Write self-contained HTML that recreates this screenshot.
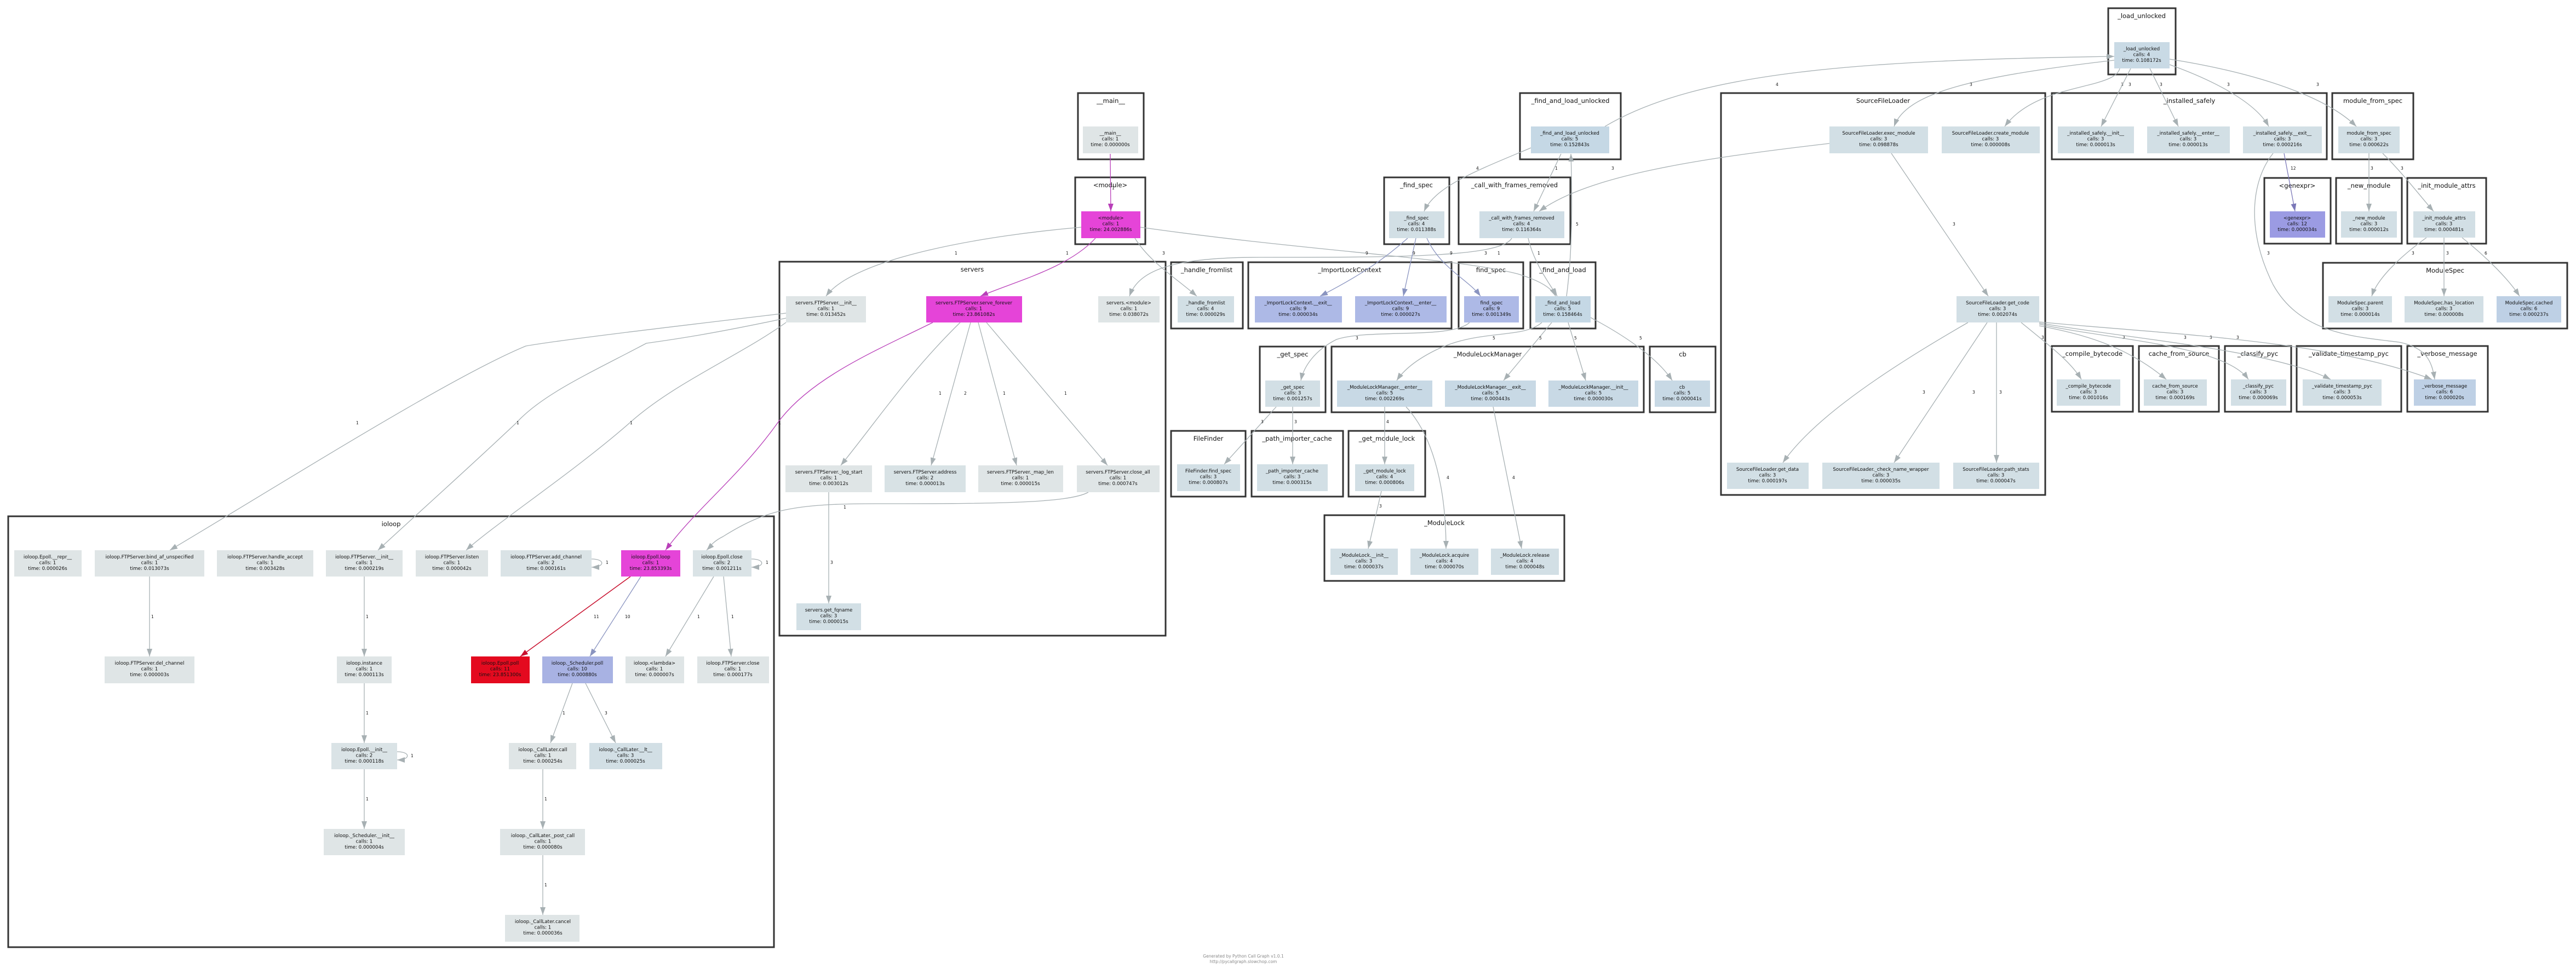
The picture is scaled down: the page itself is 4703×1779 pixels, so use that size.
<!DOCTYPE html>
<html><head><meta charset="utf-8">
<style>
html,body{margin:0;padding:0;background:#fff;}
svg{display:block;}
.n{font-family:"DejaVu Sans","Liberation Sans",sans-serif;font-size:8.7px;fill:#111;text-anchor:middle;}
.c{font-family:"DejaVu Sans","Liberation Sans",sans-serif;font-size:11.5px;fill:#111;text-anchor:middle;}
.l{font-family:"DejaVu Sans","Liberation Sans",sans-serif;font-size:7.5px;fill:#111;}
.cl{fill:none;stroke:#333;stroke-width:3;}
.e{fill:none;stroke:#a7b0b3;stroke-width:1.3;marker-end:url(#ag);}
.em{fill:none;stroke:#b93fb9;stroke-width:1.3;marker-end:url(#am);}
.er{fill:none;stroke:#c8102e;stroke-width:1.5;marker-end:url(#ar);}
.eb{fill:none;stroke:#8a94c0;stroke-width:1.3;marker-end:url(#ab);}
.ep{fill:none;stroke:#7b78b8;stroke-width:1.3;marker-end:url(#ap);}
.f{font-family:"DejaVu Sans","Liberation Sans",sans-serif;font-size:7.5px;fill:#888;text-anchor:middle;}
</style></head>
<body>
<svg width="4703" height="1779" viewBox="0 0 4703 1779" xmlns="http://www.w3.org/2000/svg">
<defs>
<marker id="ag" viewBox="0 0 10 10" refX="10" refY="5" markerWidth="14" markerHeight="10" markerUnits="userSpaceOnUse" orient="auto" preserveAspectRatio="none"><path d="M0,0L10,5L0,10z" fill="#a7b0b3"/></marker>
<marker id="am" viewBox="0 0 10 10" refX="10" refY="5" markerWidth="14" markerHeight="10" markerUnits="userSpaceOnUse" orient="auto" preserveAspectRatio="none"><path d="M0,0L10,5L0,10z" fill="#b93fb9"/></marker>
<marker id="ar" viewBox="0 0 10 10" refX="10" refY="5" markerWidth="14" markerHeight="10" markerUnits="userSpaceOnUse" orient="auto" preserveAspectRatio="none"><path d="M0,0L10,5L0,10z" fill="#c8102e"/></marker>
<marker id="ab" viewBox="0 0 10 10" refX="10" refY="5" markerWidth="14" markerHeight="10" markerUnits="userSpaceOnUse" orient="auto" preserveAspectRatio="none"><path d="M0,0L10,5L0,10z" fill="#8a94c0"/></marker>
<marker id="ap" viewBox="0 0 10 10" refX="10" refY="5" markerWidth="14" markerHeight="10" markerUnits="userSpaceOnUse" orient="auto" preserveAspectRatio="none"><path d="M0,0L10,5L0,10z" fill="#7b78b8"/></marker>
</defs>

<!-- clusters -->
<g>
<rect class="cl" x="3849" y="15" width="123" height="121"/><text class="c" x="3910" y="33">_load_unlocked</text>
<rect class="cl" x="1968" y="170" width="120" height="121"/><text class="c" x="2028" y="188">__main__</text>
<rect class="cl" x="2775" y="170" width="184" height="121"/><text class="c" x="2867" y="188">_find_and_load_unlocked</text>
<rect class="cl" x="3142" y="170" width="592" height="734"/><text class="c" x="3438" y="188">SourceFileLoader</text>
<rect class="cl" x="3746" y="170" width="502" height="121"/><text class="c" x="3997" y="188">_installed_safely</text>
<rect class="cl" x="4258" y="170" width="148" height="121"/><text class="c" x="4332" y="188">module_from_spec</text>
<rect class="cl" x="1963" y="324" width="128" height="122"/><text class="c" x="2027" y="342">&lt;module&gt;</text>
<rect class="cl" x="2527" y="324" width="119" height="122"/><text class="c" x="2586" y="342">_find_spec</text>
<rect class="cl" x="2663" y="324" width="204" height="122"/><text class="c" x="2765" y="342">_call_with_frames_removed</text>
<rect class="cl" x="4134" y="325" width="121" height="120"/><text class="c" x="4194" y="343">&lt;genexpr&gt;</text>
<rect class="cl" x="4265" y="325" width="120" height="120"/><text class="c" x="4325" y="343">_new_module</text>
<rect class="cl" x="4395" y="325" width="144" height="120"/><text class="c" x="4467" y="343">_init_module_attrs</text>
<rect class="cl" x="4241" y="480" width="446" height="120"/><text class="c" x="4464" y="498">ModuleSpec</text>
<rect class="cl" x="1423" y="478" width="705" height="683"/><text class="c" x="1775" y="496">servers</text>
<rect class="cl" x="2138" y="479" width="131" height="121"/><text class="c" x="2203" y="497">_handle_fromlist</text>
<rect class="cl" x="2279" y="479" width="371" height="121"/><text class="c" x="2464" y="497">_ImportLockContext</text>
<rect class="cl" x="2663" y="479" width="118" height="121"/><text class="c" x="2722" y="497">find_spec</text>
<rect class="cl" x="2794" y="479" width="119" height="121"/><text class="c" x="2853" y="497">_find_and_load</text>
<rect class="cl" x="2300" y="633" width="120" height="120"/><text class="c" x="2360" y="651">_get_spec</text>
<rect class="cl" x="2431" y="633" width="570" height="120"/><text class="c" x="2716" y="651">_ModuleLockManager</text>
<rect class="cl" x="3012" y="633" width="120" height="120"/><text class="c" x="3072" y="651">cb</text>
<rect class="cl" x="3746" y="632" width="148" height="120"/><text class="c" x="3820" y="650">_compile_bytecode</text>
<rect class="cl" x="3905" y="632" width="146" height="120"/><text class="c" x="3978" y="650">cache_from_source</text>
<rect class="cl" x="4062" y="632" width="121" height="120"/><text class="c" x="4122" y="650">_classify_pyc</text>
<rect class="cl" x="4193" y="632" width="191" height="120"/><text class="c" x="4288" y="650">_validate_timestamp_pyc</text>
<rect class="cl" x="4395" y="632" width="147" height="120"/><text class="c" x="4468" y="650">_verbose_message</text>
<rect class="cl" x="2138" y="787" width="136" height="120"/><text class="c" x="2206" y="805">FileFinder</text>
<rect class="cl" x="2285" y="787" width="167" height="120"/><text class="c" x="2368" y="805">_path_importer_cache</text>
<rect class="cl" x="2462" y="787" width="140" height="120"/><text class="c" x="2532" y="805">_get_module_lock</text>
<rect class="cl" x="2418" y="941" width="438" height="120"/><text class="c" x="2637" y="959">_ModuleLock</text>
<rect class="cl" x="15" y="943" width="1398" height="787"/><text class="c" x="714" y="961">ioloop</text>
</g>

<!-- edges -->
<g>
<path class="em" d="M2027,281 L2028,386"/><text class="l" x="2030" y="346">1</text>
<path class="em" d="M2000,435 C1950,490 1850,515 1790,541"/><text class="l" x="1946" y="465">1</text>
<path class="e" d="M1974,415 C1800,430 1560,470 1508,541"/><text class="l" x="1743" y="465">1</text>
<path class="e" d="M2072,435 C2100,480 2150,510 2185,541"/><text class="l" x="2122" y="465">3</text>
<path class="e" d="M2082,415 C2400,460 2650,470 2770,500 C2820,515 2835,530 2840,541"/><text class="l" x="2710" y="465">3</text>
<path class="e" d="M2760,435 C2740,470 2550,470 2300,470 C2150,470 2080,490 2062,541"/><text class="l" x="2734" y="465">1</text>
<path class="e" d="M2790,435 C2800,480 2830,520 2843,541"/><text class="l" x="2807" y="465">1</text>
<path class="eb" d="M2570,435 C2520,480 2470,510 2410,541"/><text class="l" x="2493" y="465">9</text>
<path class="eb" d="M2585,435 L2562,541"/><text class="l" x="2579" y="465">9</text>
<path class="eb" d="M2605,435 C2630,490 2680,510 2703,541"/><text class="l" x="2647" y="465">9</text>
<path class="e" d="M2795,270 C2700,310 2620,340 2600,386"/><text class="l" x="2695" y="310">4</text>
<path class="e" d="M2850,281 L2800,386"/><text class="l" x="2839" y="310">1</text>
<path class="e" d="M3340,262 C3100,290 2900,320 2810,386"/><text class="l" x="2942" y="310">3</text>
<path class="e" d="M2860,541 C2872,450 2870,350 2868,281"/><text class="l" x="2877" y="412">5</text>
<path class="e" d="M2930,231 C3100,130 3400,110 3860,103"/><text class="l" x="3242" y="157">4</text>
<path class="e" d="M3860,110 C3600,140 3480,170 3458,231"/><text class="l" x="3596" y="157">3</text>
<path class="e" d="M3870,125 C3860,165 3720,150 3660,231"/><text class="l" x="3872" y="157">3</text>
<path class="e" d="M3890,125 L3836,231"/><text class="l" x="3886" y="157">3</text>
<path class="e" d="M3925,125 L3977,231"/><text class="l" x="3943" y="157">3</text>
<path class="e" d="M3961,118 C4050,150 4120,190 4142,231"/><text class="l" x="4066" y="157">3</text>
<path class="e" d="M3961,108 C4100,130 4240,170 4302,231"/><text class="l" x="4229" y="157">3</text>
<path class="e" d="M3453,280 L3630,541"/><text class="l" x="3565" y="412">3</text>
<path class="ep" d="M4170,280 L4190,386"/><text class="l" x="4182" y="310">12</text>
<path class="e" d="M4150,280 C4110,330 4100,420 4150,520 C4200,610 4300,615 4380,625 C4430,635 4440,660 4445,693"/><text class="l" x="4139" y="465">3</text>
<path class="e" d="M4325,280 L4325,386"/><text class="l" x="4328" y="310">3</text>
<path class="e" d="M4350,280 C4390,320 4420,360 4443,386"/><text class="l" x="4383" y="310">3</text>
<path class="e" d="M4430,434 C4380,470 4340,510 4330,541"/><text class="l" x="4403" y="465">3</text>
<path class="e" d="M4462,434 L4462,541"/><text class="l" x="4466" y="465">3</text>
<path class="e" d="M4495,434 C4540,470 4580,510 4600,541"/><text class="l" x="4536" y="465">6</text>
<path class="e" d="M3690,589 C3740,630 3780,660 3800,693"/><text class="l" x="3727" y="619">3</text>
<path class="e" d="M3723,595 C3800,610 3880,630 3955,693"/><text class="l" x="3875" y="619">3</text>
<path class="e" d="M3723,592 C3850,620 4060,630 4105,693"/><text class="l" x="3987" y="619">3</text>
<path class="e" d="M3723,590 C3900,620 4150,640 4255,693"/><text class="l" x="4034" y="619">3</text>
<path class="e" d="M3723,588 C3950,610 4250,620 4440,693"/><text class="l" x="4083" y="619">3</text>
<path class="e" d="M3593,589 C3400,700 3300,780 3255,845"/><text class="l" x="3510" y="719">3</text>
<path class="e" d="M3628,589 L3458,845"/><text class="l" x="3601" y="719">3</text>
<path class="e" d="M3645,589 L3645,845"/><text class="l" x="3650" y="719">3</text>
<path class="e" d="M2815,589 C2780,620 2700,600 2620,640 C2580,660 2560,680 2550,695"/><text class="l" x="2725" y="620">5</text>
<path class="e" d="M2833,589 L2745,695"/><text class="l" x="2810" y="620">5</text>
<path class="e" d="M2863,589 L2895,695"/><text class="l" x="2874" y="620">5</text>
<path class="e" d="M2904,580 C2980,620 3030,660 3053,695"/><text class="l" x="2993" y="620">5</text>
<path class="e" d="M2683,589 C2650,620 2500,600 2440,620 C2400,640 2380,670 2375,695"/><text class="l" x="2475" y="620">3</text>
<path class="e" d="M2330,743 L2235,848"/><text class="l" x="2302" y="773">3</text>
<path class="e" d="M2360,743 L2360,848"/><text class="l" x="2363" y="773">3</text>
<path class="e" d="M2528,743 L2528,848"/><text class="l" x="2531" y="773">4</text>
<path class="e" d="M2567,743 C2620,800 2640,900 2640,1002"/><text class="l" x="2641" y="875">4</text>
<path class="e" d="M2726,743 L2778,1002"/><text class="l" x="2761" y="875">4</text>
<path class="e" d="M2522,897 L2498,1002"/><text class="l" x="2518" y="927">3</text>
<path class="e" d="M1753,589 C1660,680 1600,770 1535,850"/><text class="l" x="1714" y="721">1</text>
<path class="e" d="M1772,589 L1700,850"/><text class="l" x="1760" y="721">2</text>
<path class="e" d="M1786,589 L1856,850"/><text class="l" x="1831" y="721">1</text>
<path class="e" d="M1801,589 L2022,850"/><text class="l" x="1943" y="721">1</text>
<path class="e" d="M1513,899 L1513,1102"/><text class="l" x="1516" y="1030">3</text>
<path class="em" d="M1703,589 C1600,640 1480,690 1420,772 C1350,870 1270,930 1215,1005"/><text class="l" x="1421" y="775">1</text>
<path class="e" d="M1987,899 C1950,920 1800,920 1600,920 C1450,920 1400,930 1320,980 C1300,990 1295,1000 1290,1005"/><text class="l" x="1540" y="929">1</text>
<path class="e" d="M1435,572 C1200,600 1030,620 960,632 C820,690 520,880 310,1005"/><text class="l" x="650" y="775">1</text>
<path class="e" d="M1440,580 C1300,610 1230,620 1180,627 C1080,680 990,720 943,772 C850,860 760,940 690,1005"/><text class="l" x="943" y="775">1</text>
<path class="e" d="M1435,589 C1350,650 1230,700 1150,772 C1050,860 900,960 851,1005"/><text class="l" x="1150" y="775">1</text>
<path class="e" d="M273,1053 L273,1199"/><text class="l" x="276" y="1129">1</text>
<path class="e" d="M665,1053 L665,1199"/><text class="l" x="668" y="1129">1</text>
<path class="e" d="M665,1248 L665,1357"/><text class="l" x="668" y="1305">1</text>
<path class="e" d="M665,1405 L665,1514"/><text class="l" x="668" y="1462">1</text>
<path class="er" d="M1151,1053 L950,1199"/><text class="l" x="1084" y="1129">11</text>
<path class="eb" d="M1170,1053 L1077,1199"/><text class="l" x="1141" y="1129">10</text>
<path class="e" d="M1303,1053 L1215,1199"/><text class="l" x="1273" y="1129">1</text>
<path class="e" d="M1321,1053 L1335,1199"/><text class="l" x="1335" y="1129">1</text>
<path class="e" d="M1045,1248 L1005,1357"/><text class="l" x="1027" y="1305">1</text>
<path class="e" d="M1069,1248 L1124,1357"/><text class="l" x="1104" y="1305">3</text>
<path class="e" d="M991,1405 L991,1514"/><text class="l" x="994" y="1462">1</text>
<path class="e" d="M991,1562 L991,1671"/><text class="l" x="994" y="1619">1</text>
<path class="e" d="M1080,1021 C1105,1021 1105,1036 1080,1036"/><text class="l" x="1106" y="1030">1</text>
<path class="e" d="M1372,1021 C1397,1021 1397,1036 1372,1036"/><text class="l" x="1398" y="1030">1</text>
<path class="e" d="M725,1373 C750,1373 750,1388 725,1388"/><text class="l" x="750" y="1383">1</text>
</g>

<!-- nodes -->
<g>
<rect x="1977" y="231" width="101" height="49" fill="#dfe5e6"/><text class="n" x="2027" y="246">__main__</text><text class="n" x="2027" y="256.5">calls: 1</text><text class="n" x="2027" y="267">time: 0.000000s</text>
<rect x="1974" y="386" width="108" height="49" fill="#e544d8"/><text class="n" x="2028" y="401">&lt;module&gt;</text><text class="n" x="2028" y="411.5">calls: 1</text><text class="n" x="2028" y="422">time: 24.002886s</text>
<rect x="2795" y="231" width="143" height="49" fill="#c5d8e5"/><text class="n" x="2866" y="246">_find_and_load_unlocked</text><text class="n" x="2866" y="256.5">calls: 5</text><text class="n" x="2866" y="267">time: 0.152843s</text>
<rect x="2536" y="386" width="101" height="49" fill="#d2dfe5"/><text class="n" x="2586" y="401">_find_spec</text><text class="n" x="2586" y="411.5">calls: 4</text><text class="n" x="2586" y="422">time: 0.011388s</text>
<rect x="2701" y="386" width="155" height="49" fill="#cfdde5"/><text class="n" x="2778" y="401">_call_with_frames_removed</text><text class="n" x="2778" y="411.5">calls: 4</text><text class="n" x="2778" y="422">time: 0.116364s</text>
<rect x="3860" y="77" width="101" height="48" fill="#c9dae5"/><text class="n" x="3910" y="92">_load_unlocked</text><text class="n" x="3910" y="102.5">calls: 4</text><text class="n" x="3910" y="113">time: 0.108172s</text>
<rect x="3340" y="231" width="180" height="49" fill="#d2dfe5"/><text class="n" x="3430" y="246">SourceFileLoader.exec_module</text><text class="n" x="3430" y="256.5">calls: 3</text><text class="n" x="3430" y="267">time: 0.098878s</text>
<rect x="3545" y="231" width="179" height="49" fill="#d2dfe5"/><text class="n" x="3634" y="246">SourceFileLoader.create_module</text><text class="n" x="3634" y="256.5">calls: 3</text><text class="n" x="3634" y="267">time: 0.000008s</text>
<rect x="3757" y="231" width="139" height="49" fill="#d2dfe5"/><text class="n" x="3826" y="246">_installed_safely.__init__</text><text class="n" x="3826" y="256.5">calls: 3</text><text class="n" x="3826" y="267">time: 0.000013s</text>
<rect x="3920" y="231" width="151" height="49" fill="#d2dfe5"/><text class="n" x="3995" y="246">_installed_safely.__enter__</text><text class="n" x="3995" y="256.5">calls: 3</text><text class="n" x="3995" y="267">time: 0.000013s</text>
<rect x="4095" y="231" width="144" height="49" fill="#d2dfe5"/><text class="n" x="4167" y="246">_installed_safely.__exit__</text><text class="n" x="4167" y="256.5">calls: 3</text><text class="n" x="4167" y="267">time: 0.000216s</text>
<rect x="4269" y="231" width="112" height="49" fill="#d2dfe5"/><text class="n" x="4325" y="246">module_from_spec</text><text class="n" x="4325" y="256.5">calls: 3</text><text class="n" x="4325" y="267">time: 0.000622s</text>
<rect x="4144" y="386" width="101" height="48" fill="#9b9be3"/><text class="n" x="4194" y="401">&lt;genexpr&gt;</text><text class="n" x="4194" y="411.5">calls: 12</text><text class="n" x="4194" y="422">time: 0.000034s</text>
<rect x="4274" y="386" width="102" height="48" fill="#d2dfe5"/><text class="n" x="4325" y="401">_new_module</text><text class="n" x="4325" y="411.5">calls: 3</text><text class="n" x="4325" y="422">time: 0.000012s</text>
<rect x="4406" y="386" width="113" height="48" fill="#d2dfe5"/><text class="n" x="4462" y="401">_init_module_attrs</text><text class="n" x="4462" y="411.5">calls: 3</text><text class="n" x="4462" y="422">time: 0.000481s</text>
<rect x="4251" y="541" width="116" height="48" fill="#d2dfe5"/><text class="n" x="4309" y="556">ModuleSpec.parent</text><text class="n" x="4309" y="566.5">calls: 3</text><text class="n" x="4309" y="577">time: 0.000014s</text>
<rect x="4390" y="541" width="144" height="48" fill="#d2dfe5"/><text class="n" x="4462" y="556">ModuleSpec.has_location</text><text class="n" x="4462" y="566.5">calls: 3</text><text class="n" x="4462" y="577">time: 0.000008s</text>
<rect x="4558" y="541" width="118" height="48" fill="#bed0e5"/><text class="n" x="4617" y="556">ModuleSpec.cached</text><text class="n" x="4617" y="566.5">calls: 6</text><text class="n" x="4617" y="577">time: 0.000237s</text>
<rect x="3572" y="541" width="151" height="48" fill="#d2dfe5"/><text class="n" x="3647" y="556">SourceFileLoader.get_code</text><text class="n" x="3647" y="566.5">calls: 3</text><text class="n" x="3647" y="577">time: 0.002074s</text>
<rect x="3755" y="693" width="116" height="48" fill="#d2dfe5"/><text class="n" x="3813" y="708">_compile_bytecode</text><text class="n" x="3813" y="718.5">calls: 3</text><text class="n" x="3813" y="729">time: 0.001016s</text>
<rect x="3914" y="693" width="115" height="48" fill="#d2dfe5"/><text class="n" x="3971" y="708">cache_from_source</text><text class="n" x="3971" y="718.5">calls: 3</text><text class="n" x="3971" y="729">time: 0.000169s</text>
<rect x="4073" y="693" width="101" height="48" fill="#d2dfe5"/><text class="n" x="4123" y="708">_classify_pyc</text><text class="n" x="4123" y="718.5">calls: 3</text><text class="n" x="4123" y="729">time: 0.000069s</text>
<rect x="4204" y="693" width="144" height="48" fill="#d2dfe5"/><text class="n" x="4276" y="708">_validate_timestamp_pyc</text><text class="n" x="4276" y="718.5">calls: 3</text><text class="n" x="4276" y="729">time: 0.000053s</text>
<rect x="4407" y="693" width="113" height="48" fill="#bed0e5"/><text class="n" x="4463" y="708">_verbose_message</text><text class="n" x="4463" y="718.5">calls: 6</text><text class="n" x="4463" y="729">time: 0.000020s</text>
<rect x="3153" y="845" width="149" height="48" fill="#d2dfe5"/><text class="n" x="3227" y="860">SourceFileLoader.get_data</text><text class="n" x="3227" y="870.5">calls: 3</text><text class="n" x="3227" y="881">time: 0.000197s</text>
<rect x="3327" y="845" width="214" height="48" fill="#d2dfe5"/><text class="n" x="3434" y="860">SourceFileLoader._check_name_wrapper</text><text class="n" x="3434" y="870.5">calls: 3</text><text class="n" x="3434" y="881">time: 0.000035s</text>
<rect x="3566" y="845" width="157" height="48" fill="#d2dfe5"/><text class="n" x="3644" y="860">SourceFileLoader.path_stats</text><text class="n" x="3644" y="870.5">calls: 3</text><text class="n" x="3644" y="881">time: 0.000047s</text>
<rect x="2150" y="541" width="103" height="48" fill="#d2dfe5"/><text class="n" x="2201" y="556">_handle_fromlist</text><text class="n" x="2201" y="566.5">calls: 4</text><text class="n" x="2201" y="577">time: 0.000029s</text>
<rect x="2291" y="541" width="159" height="48" fill="#adb9e6"/><text class="n" x="2370" y="556">_ImportLockContext.__exit__</text><text class="n" x="2370" y="566.5">calls: 9</text><text class="n" x="2370" y="577">time: 0.000034s</text>
<rect x="2474" y="541" width="167" height="48" fill="#adb9e6"/><text class="n" x="2557" y="556">_ImportLockContext.__enter__</text><text class="n" x="2557" y="566.5">calls: 9</text><text class="n" x="2557" y="577">time: 0.000027s</text>
<rect x="2673" y="541" width="100" height="48" fill="#adb9e6"/><text class="n" x="2723" y="556">find_spec</text><text class="n" x="2723" y="566.5">calls: 9</text><text class="n" x="2723" y="577">time: 0.001349s</text>
<rect x="2803" y="541" width="101" height="48" fill="#c5d8e5"/><text class="n" x="2853" y="556">_find_and_load</text><text class="n" x="2853" y="566.5">calls: 5</text><text class="n" x="2853" y="577">time: 0.158464s</text>
<rect x="2310" y="695" width="100" height="48" fill="#d2dfe5"/><text class="n" x="2360" y="710">_get_spec</text><text class="n" x="2360" y="720.5">calls: 3</text><text class="n" x="2360" y="731">time: 0.001257s</text>
<rect x="2441" y="695" width="174" height="48" fill="#c8d9e5"/><text class="n" x="2528" y="710">_ModuleLockManager.__enter__</text><text class="n" x="2528" y="720.5">calls: 5</text><text class="n" x="2528" y="731">time: 0.002269s</text>
<rect x="2638" y="695" width="166" height="48" fill="#c8d9e5"/><text class="n" x="2721" y="710">_ModuleLockManager.__exit__</text><text class="n" x="2721" y="720.5">calls: 5</text><text class="n" x="2721" y="731">time: 0.000443s</text>
<rect x="2827" y="695" width="164" height="48" fill="#c8d9e5"/><text class="n" x="2909" y="710">_ModuleLockManager.__init__</text><text class="n" x="2909" y="720.5">calls: 5</text><text class="n" x="2909" y="731">time: 0.000030s</text>
<rect x="3021" y="695" width="101" height="48" fill="#c8d9e5"/><text class="n" x="3071" y="710">cb</text><text class="n" x="3071" y="720.5">calls: 5</text><text class="n" x="3071" y="731">time: 0.000041s</text>
<rect x="2149" y="848" width="115" height="49" fill="#d2dfe5"/><text class="n" x="2206" y="863">FileFinder.find_spec</text><text class="n" x="2206" y="873.5">calls: 3</text><text class="n" x="2206" y="884">time: 0.000807s</text>
<rect x="2295" y="848" width="129" height="49" fill="#d2dfe5"/><text class="n" x="2359" y="863">_path_importer_cache</text><text class="n" x="2359" y="873.5">calls: 3</text><text class="n" x="2359" y="884">time: 0.000315s</text>
<rect x="2474" y="848" width="108" height="49" fill="#d2dfe5"/><text class="n" x="2528" y="863">_get_module_lock</text><text class="n" x="2528" y="873.5">calls: 4</text><text class="n" x="2528" y="884">time: 0.000806s</text>
<rect x="2429" y="1002" width="123" height="48" fill="#d2dfe5"/><text class="n" x="2490" y="1017">_ModuleLock.__init__</text><text class="n" x="2490" y="1027.5">calls: 3</text><text class="n" x="2490" y="1038">time: 0.000037s</text>
<rect x="2575" y="1002" width="124" height="48" fill="#d2dfe5"/><text class="n" x="2637" y="1017">_ModuleLock.acquire</text><text class="n" x="2637" y="1027.5">calls: 4</text><text class="n" x="2637" y="1038">time: 0.000070s</text>
<rect x="2722" y="1002" width="124" height="48" fill="#d2dfe5"/><text class="n" x="2784" y="1017">_ModuleLock.release</text><text class="n" x="2784" y="1027.5">calls: 4</text><text class="n" x="2784" y="1038">time: 0.000048s</text>

<rect x="1435" y="541" width="146" height="48" fill="#dfe5e6"/><text class="n" x="1508" y="556">servers.FTPServer.__init__</text><text class="n" x="1508" y="566.5">calls: 1</text><text class="n" x="1508" y="577">time: 0.013452s</text>
<rect x="1691" y="541" width="175" height="48" fill="#e544d8"/><text class="n" x="1778" y="556">servers.FTPServer.serve_forever</text><text class="n" x="1778" y="566.5">calls: 1</text><text class="n" x="1778" y="577">time: 23.861082s</text>
<rect x="2005" y="541" width="112" height="48" fill="#dfe5e6"/><text class="n" x="2061" y="556">servers.&lt;module&gt;</text><text class="n" x="2061" y="566.5">calls: 1</text><text class="n" x="2061" y="577">time: 0.038072s</text>
<rect x="1434" y="850" width="158" height="49" fill="#dfe5e6"/><text class="n" x="1513" y="865">servers.FTPServer._log_start</text><text class="n" x="1513" y="875.5">calls: 1</text><text class="n" x="1513" y="886">time: 0.003012s</text>
<rect x="1615" y="850" width="148" height="49" fill="#d8e2e5"/><text class="n" x="1689" y="865">servers.FTPServer.address</text><text class="n" x="1689" y="875.5">calls: 2</text><text class="n" x="1689" y="886">time: 0.000013s</text>
<rect x="1786" y="850" width="155" height="49" fill="#dfe5e6"/><text class="n" x="1863" y="865">servers.FTPServer._map_len</text><text class="n" x="1863" y="875.5">calls: 1</text><text class="n" x="1863" y="886">time: 0.000015s</text>
<rect x="1966" y="850" width="151" height="49" fill="#dfe5e6"/><text class="n" x="2041" y="865">servers.FTPServer.close_all</text><text class="n" x="2041" y="875.5">calls: 1</text><text class="n" x="2041" y="886">time: 0.000747s</text>
<rect x="1454" y="1102" width="118" height="49" fill="#d2dfe5"/><text class="n" x="1513" y="1117">servers.get_fqname</text><text class="n" x="1513" y="1127.5">calls: 3</text><text class="n" x="1513" y="1138">time: 0.000015s</text>

<rect x="26" y="1005" width="123" height="48" fill="#dfe5e6"/><text class="n" x="87" y="1020">ioloop.Epoll.__repr__</text><text class="n" x="87" y="1030.5">calls: 1</text><text class="n" x="87" y="1041">time: 0.000026s</text>
<rect x="173" y="1005" width="200" height="48" fill="#dfe5e6"/><text class="n" x="273" y="1020">ioloop.FTPServer.bind_af_unspecified</text><text class="n" x="273" y="1030.5">calls: 1</text><text class="n" x="273" y="1041">time: 0.013073s</text>
<rect x="396" y="1005" width="176" height="48" fill="#dfe5e6"/><text class="n" x="484" y="1020">ioloop.FTPServer.handle_accept</text><text class="n" x="484" y="1030.5">calls: 1</text><text class="n" x="484" y="1041">time: 0.003428s</text>
<rect x="595" y="1005" width="140" height="48" fill="#dfe5e6"/><text class="n" x="665" y="1020">ioloop.FTPServer.__init__</text><text class="n" x="665" y="1030.5">calls: 1</text><text class="n" x="665" y="1041">time: 0.000219s</text>
<rect x="759" y="1005" width="132" height="48" fill="#dfe5e6"/><text class="n" x="825" y="1020">ioloop.FTPServer.listen</text><text class="n" x="825" y="1030.5">calls: 1</text><text class="n" x="825" y="1041">time: 0.000042s</text>
<rect x="914" y="1005" width="166" height="48" fill="#dae3e6"/><text class="n" x="997" y="1020">ioloop.FTPServer.add_channel</text><text class="n" x="997" y="1030.5">calls: 2</text><text class="n" x="997" y="1041">time: 0.000161s</text>
<rect x="1134" y="1005" width="108" height="48" fill="#e544d8"/><text class="n" x="1188" y="1020">ioloop.Epoll.loop</text><text class="n" x="1188" y="1030.5">calls: 1</text><text class="n" x="1188" y="1041">time: 23.853393s</text>
<rect x="1265" y="1005" width="107" height="48" fill="#dae3e6"/><text class="n" x="1318" y="1020">ioloop.Epoll.close</text><text class="n" x="1318" y="1030.5">calls: 2</text><text class="n" x="1318" y="1041">time: 0.001211s</text>
<rect x="191" y="1199" width="164" height="49" fill="#dfe5e6"/><text class="n" x="273" y="1214">ioloop.FTPServer.del_channel</text><text class="n" x="273" y="1224.5">calls: 1</text><text class="n" x="273" y="1235">time: 0.000003s</text>
<rect x="615" y="1199" width="100" height="49" fill="#dfe5e6"/><text class="n" x="665" y="1214">ioloop.instance</text><text class="n" x="665" y="1224.5">calls: 1</text><text class="n" x="665" y="1235">time: 0.000113s</text>
<rect x="860" y="1199" width="107" height="49" fill="#e40a1f"/><text class="n" x="913" y="1214">ioloop.Epoll.poll</text><text class="n" x="913" y="1224.5">calls: 11</text><text class="n" x="913" y="1235">time: 23.851300s</text>
<rect x="990" y="1199" width="129" height="49" fill="#a8b2e3"/><text class="n" x="1054" y="1214">ioloop._Scheduler.poll</text><text class="n" x="1054" y="1224.5">calls: 10</text><text class="n" x="1054" y="1235">time: 0.000880s</text>
<rect x="1142" y="1199" width="107" height="49" fill="#dfe5e6"/><text class="n" x="1195" y="1214">ioloop.&lt;lambda&gt;</text><text class="n" x="1195" y="1224.5">calls: 1</text><text class="n" x="1195" y="1235">time: 0.000007s</text>
<rect x="1273" y="1199" width="131" height="49" fill="#dfe5e6"/><text class="n" x="1338" y="1214">ioloop.FTPServer.close</text><text class="n" x="1338" y="1224.5">calls: 1</text><text class="n" x="1338" y="1235">time: 0.000177s</text>
<rect x="605" y="1357" width="120" height="48" fill="#dae3e6"/><text class="n" x="665" y="1372">ioloop.Epoll.__init__</text><text class="n" x="665" y="1382.5">calls: 2</text><text class="n" x="665" y="1393">time: 0.000118s</text>
<rect x="929" y="1357" width="123" height="48" fill="#dfe5e6"/><text class="n" x="991" y="1372">ioloop._CallLater.call</text><text class="n" x="991" y="1382.5">calls: 1</text><text class="n" x="991" y="1393">time: 0.000254s</text>
<rect x="1076" y="1357" width="133" height="48" fill="#d2dfe5"/><text class="n" x="1142" y="1372">ioloop._CallLater.__lt__</text><text class="n" x="1142" y="1382.5">calls: 3</text><text class="n" x="1142" y="1393">time: 0.000025s</text>
<rect x="591" y="1514" width="148" height="48" fill="#dfe5e6"/><text class="n" x="665" y="1529">ioloop._Scheduler.__init__</text><text class="n" x="665" y="1539.5">calls: 1</text><text class="n" x="665" y="1550">time: 0.000004s</text>
<rect x="913" y="1514" width="155" height="48" fill="#dfe5e6"/><text class="n" x="991" y="1529">ioloop._CallLater._post_call</text><text class="n" x="991" y="1539.5">calls: 1</text><text class="n" x="991" y="1550">time: 0.000080s</text>
<rect x="922" y="1671" width="136" height="49" fill="#dfe5e6"/><text class="n" x="991" y="1686">ioloop._CallLater.cancel</text><text class="n" x="991" y="1696.5">calls: 1</text><text class="n" x="991" y="1707">time: 0.000036s</text>
</g>

<text class="f" x="2270" y="1749">Generated by Python Call Graph v1.0.1</text>
<text class="f" x="2270" y="1759">http://pycallgraph.slowchop.com</text>
</svg>
</body></html>
